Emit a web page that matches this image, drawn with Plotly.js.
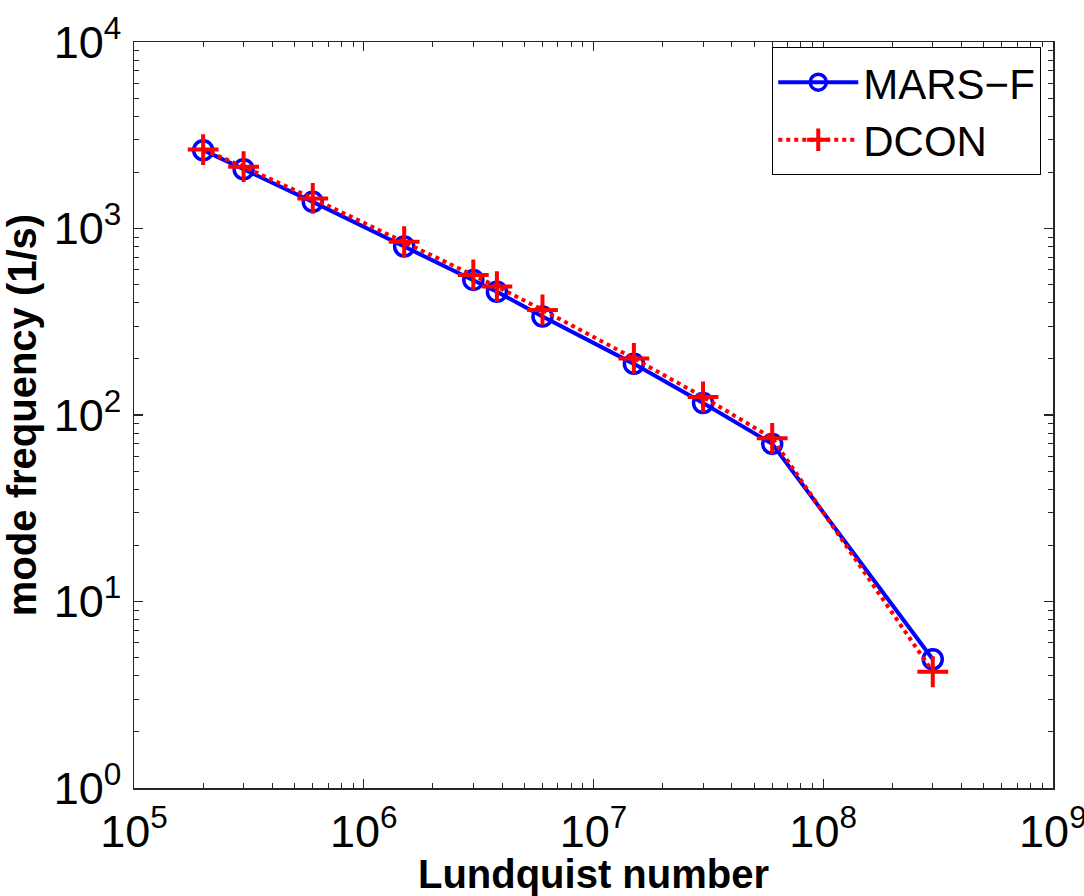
<!DOCTYPE html>
<html>
<head>
<meta charset="utf-8">
<script src="https://cdn.plot.ly/plotly-3.0.1.min.js"></script>
<style>body{margin:0;padding:0;background:#fff}#chart{width:1084px;height:896px}</style>
</head>
<body>
<div id="chart"></div>
<script>
// Lundquist number (x) for both series
const lundquist = [2e5, 3e5, 6e5, 1.5e6, 3e6, 3.8e6, 6e6, 1.5e7, 3e7, 6e7, 3e8];
// mode frequency (1/s)
const marsF = [2630, 2080, 1390, 800, 530, 458, 337, 188, 116, 70, 4.9];
const dcon  = [2650, 2145, 1450, 849, 564, 488, 366, 201, 125, 75, 4.2];
const seriesNames = ['MARS\u2212F', 'DCON'];

// tick label replacements for the low decades (others use power format)
const yLabelAlias = {'1': '10<sup>0</sup>', '10': '10<sup>1</sup>'};

const font = 'Liberation Sans, Arial, Helvetica, sans-serif';
const axisCommon = {
  type: 'log',
  showgrid: false,
  zeroline: false,
  showline: true,
  linecolor: '#262626',
  linewidth: 1.5,
  mirror: 'ticks',
  ticks: 'inside',
  ticklen: 9,
  tickwidth: 1.2,
  tickcolor: '#262626',
  dtick: 1,
  exponentformat: 'power',
  ticklabeloverflow: 'allow',
  tickfont: {family: font, size: 36, color: '#000'},
  minor: {ticks: 'inside', ticklen: 5, tickwidth: 1, tickcolor: '#262626', showgrid: false}
};

const traces = [
  {
    x: lundquist, y: marsF, name: seriesNames[0], type: 'scatter', mode: 'lines+markers',
    line: {color: '#0000ff', width: 4},
    marker: {symbol: 'circle-open', size: 19, color: '#0000ff', line: {width: 3.5, color: '#0000ff'}}
  },
  {
    x: lundquist, y: dcon, name: seriesNames[1], type: 'scatter', mode: 'lines+markers',
    line: {color: '#ff0000', width: 4, dash: 'dot'},
    marker: {symbol: 'cross-thin-open', size: 22, color: '#ff0000', line: {width: 4, color: '#ff0000'}}
  }
];

const layout = {
  width: 1084, height: 896,
  paper_bgcolor: '#fff', plot_bgcolor: '#fff',
  margin: {l: 134, r: 31, t: 42, b: 108},
  showlegend: true,
  legend: {
    x: 0.987, y: 0.993, xanchor: 'right', yanchor: 'top',
    bordercolor: '#000', borderwidth: 1.2, bgcolor: '#fff',
    font: {family: font, size: 42, color: '#000'},
    itemwidth: 80, tracegroupgap: 0
  },
  xaxis: Object.assign({}, axisCommon, {
    range: [5, 9.0005],
    ticklabelstandoff: 5,
    title: {text: 'Lundquist number', font: {family: font, size: 40, color: '#000', weight: 'bold'}, standoff: 0}
  }),
  yaxis: Object.assign({}, axisCommon, {
    range: [0, 4],
    labelalias: yLabelAlias,
    ticklabelstandoff: 4,
    title: {text: 'mode frequency (1/s)', font: {family: font, size: 40, color: '#000', weight: 'bold'}, standoff: 4}
  })
};

Plotly.newPlot('chart', traces, layout, {staticPlot: true});
</script>
</body>
</html>
